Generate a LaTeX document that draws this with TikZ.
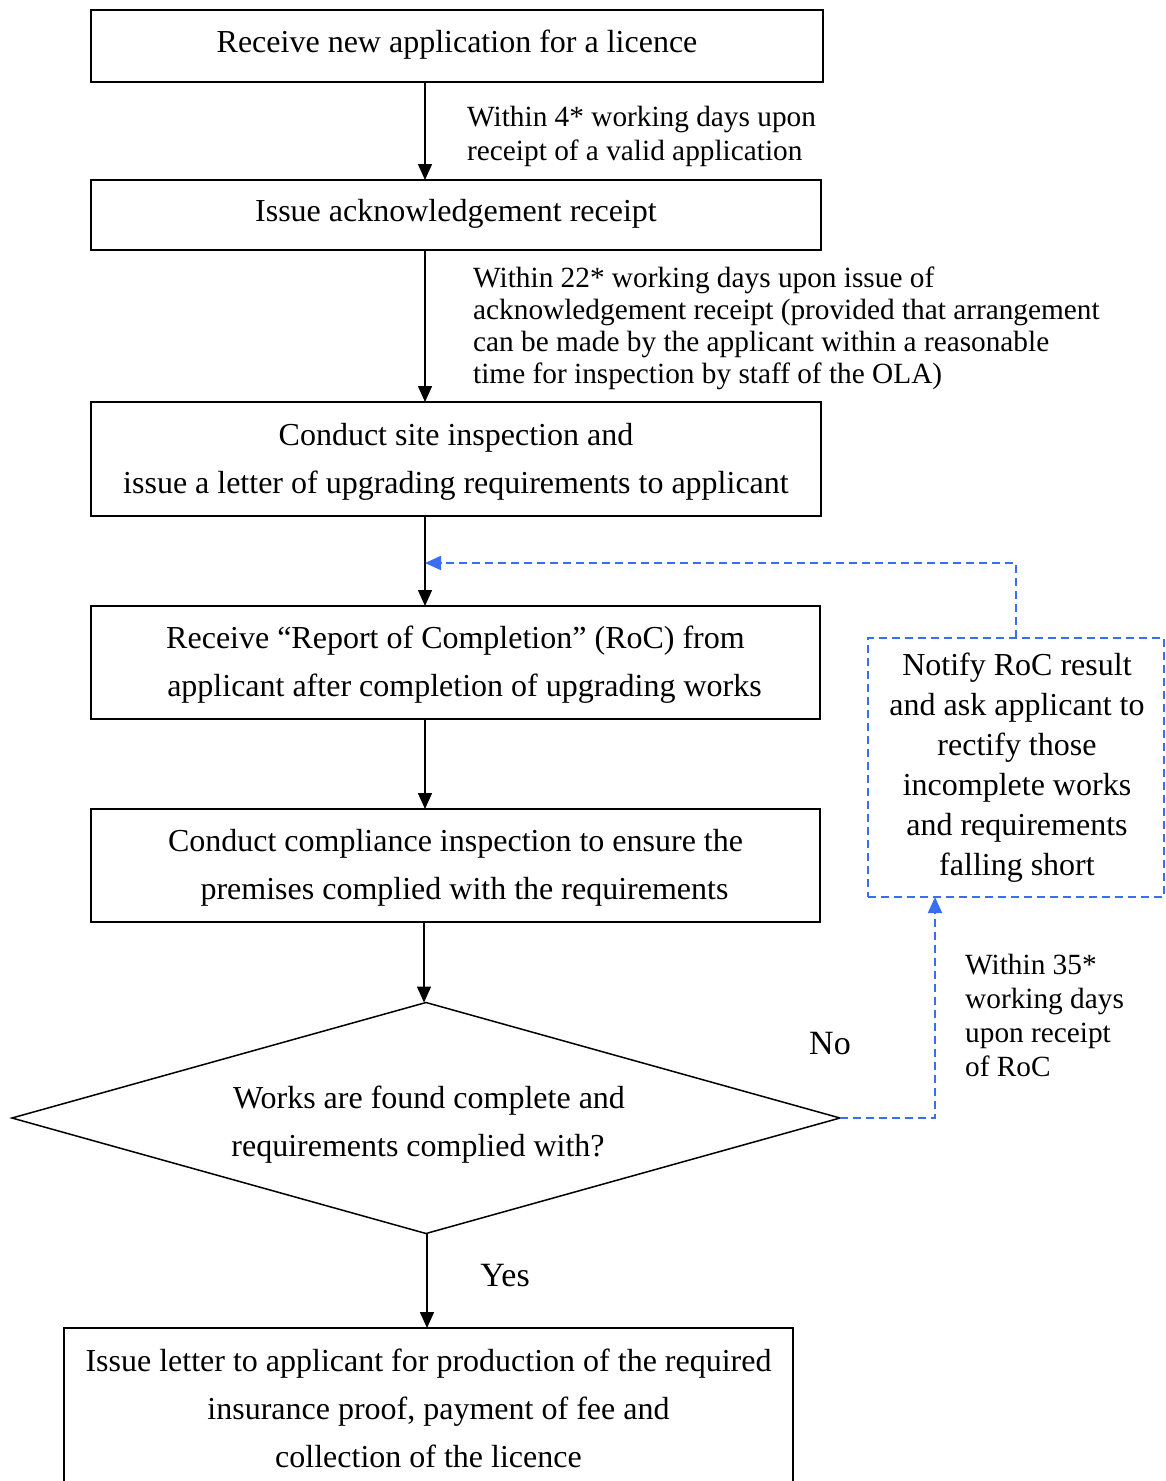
\documentclass[tikz,border=0pt]{standalone}
\usepackage{fontspec}
\setmainfont{Liberation Serif}
\usetikzlibrary{arrows.meta,shapes.geometric}
\definecolor{fbblue}{RGB}{58,110,240}
\tikzset{
  box/.style={draw=black, line width=1.5pt, rectangle, inner sep=0pt, outer sep=0pt},
  boxtext/.style={inner sep=0pt, align=center, font=\fontsize{32}{48}\selectfont},
  lbl/.style={anchor=west, align=left, inner sep=0pt, font=\fontsize{29.3}{34}\selectfont},
  arr/.style={line width=1.5pt, -{Triangle[length=16pt,width=14pt]}},
  fbline/.style={draw=fbblue, line width=1.8pt, dash pattern=on 8pt off 5pt},
  fbarr/.style={fbline, -{Triangle[length=16pt,width=14pt,fill=fbblue]}},
}
\begin{document}
\begin{tikzpicture}[x=1pt,y=-1pt]
\clip (0,0) rectangle (1166,1481);
\fill[white] (0,0) rectangle (1166,1481);

% shapes
\node[box, minimum width=732pt, minimum height=72pt] (b1) at (457,46) {};
\node[box, minimum width=730pt, minimum height=70pt] (b2) at (456,215) {};
\node[box, minimum width=730pt, minimum height=114pt] (b3) at (456,459) {};
\node[box, minimum width=729pt, minimum height=113pt] (b4) at (455.5,662.5) {};
\node[box, minimum width=729pt, minimum height=113pt] (b5) at (455.5,865.5) {};
\node[box, shape=diamond, aspect=3.58, minimum width=828pt, minimum height=231pt] (d) at (426,1118) {};
\node[box, minimum width=729pt, minimum height=162pt] (b6) at (428.5,1409) {};
\node[fbline, rectangle, inner sep=0pt, outer sep=0pt, minimum width=296pt, minimum height=259pt] (nb) at (1016,767.5) {};

% texts
\node[boxtext] (t1) at (457,45) {Receive new application for a licence};
\node[boxtext] (t2) at (456,214) {Issue acknowledgement receipt};
\node[boxtext] (t3) at (456,462) {Conduct site inspection and\\issue a letter of upgrading requirements to applicant};
\node[boxtext] (t4) at (455.5,664.5) {Receive “Report of Completion” (RoC) from\\\hspace*{18pt}applicant after completion of upgrading works};
\node[boxtext] (t5) at (455.5,867.5) {Conduct compliance inspection to ensure the\\\hspace*{18pt}premises complied with the requirements};
\node[boxtext] (t6) at (427,1125) {\hspace*{4pt}Works are found complete and\\requirements complied with?\hspace*{18pt}};
\node[boxtext] (t7) at (428.5,1408) {Issue letter to applicant for production of the required\\\hspace*{20pt}insurance proof, payment of fee and\\collection of the licence};
\node[boxtext, font=\fontsize{32}{40}\selectfont] (t8) at (1017,767.5) {Notify RoC result\\and ask applicant to\\rectify those\\incomplete works\\and requirements\\falling short};

\coordinate (xa) at (425,0);
\coordinate (xb) at (424,0);
\coordinate (xc) at (427,0);
\coordinate (xd) at (935,0);
\coordinate (fb) at (425,563);

\draw[arr] (b1.south -| xa) -- (b2.north -| xa);
\draw[arr] (b2.south -| xa) -- (b3.north -| xa);
\draw[arr] (b3.south -| xa) -- (b4.north -| xa);
\draw[arr] (b4.south -| xa) -- (b5.north -| xa);
\draw[arr] (b5.south -| xb) -- (d.north -| xb);
\draw[arr] (d.south -| xc) -- (b6.north -| xc);

\draw[fbarr] (d.east) -| (nb.south -| xd);
\draw[fbarr] (nb.north) |- (fb);

\node[lbl] (l1) at (467,136) {Within 4* working days upon\\receipt of a valid application};
\node[lbl, font=\fontsize{29.3}{32}\selectfont] (l2) at (473,328) {Within 22* working days upon issue of\\acknowledgement receipt (provided that arrangement\\can be made by the applicant within a reasonable\\time for inspection by staff of the OLA)};
\node[lbl] (l3) at (965,1015) {Within 35*\\working days\\upon receipt\\of RoC};
\node[inner sep=0pt, font=\fontsize{34}{40}\selectfont] (no) at (830,1044) {No};
\node[inner sep=0pt, font=\fontsize{34}{40}\selectfont] (yes) at (505,1276) {Yes};
\end{tikzpicture}
\end{document}
